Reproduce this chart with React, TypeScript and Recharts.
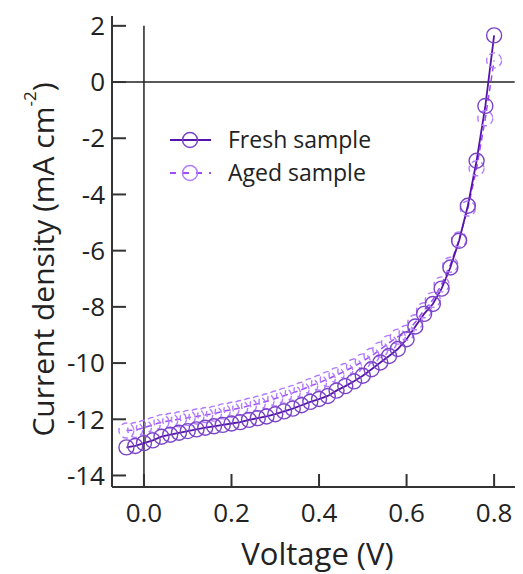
import React from 'react';
import { LineChart, Line, XAxis, YAxis, ReferenceLine, Legend, Label } from 'recharts';

const voltages = [-0.04, -0.02, 0, 0.02, 0.04, 0.06, 0.08, 0.1, 0.12, 0.14, 0.16, 0.18, 0.2, 0.22, 0.24, 0.26, 0.28, 0.3, 0.32, 0.34, 0.36, 0.38, 0.4, 0.42, 0.44, 0.46, 0.48, 0.5, 0.52, 0.54, 0.56, 0.58, 0.6, 0.62, 0.64, 0.66, 0.68, 0.7, 0.72, 0.74, 0.76, 0.78, 0.8];
const freshJ = [-13.0, -12.95, -12.85, -12.75, -12.62, -12.55, -12.48, -12.42, -12.36, -12.3, -12.25, -12.2, -12.15, -12.1, -12.02, -11.96, -11.9, -11.82, -11.72, -11.62, -11.5, -11.38, -11.28, -11.17, -10.98, -10.82, -10.65, -10.45, -10.22, -9.98, -9.75, -9.5, -9.15, -8.7, -8.25, -7.9, -7.35, -6.6, -5.65, -4.4, -2.8, -0.85, 1.66];
const agedJ = [-12.4, -12.38, -12.3, -12.2, -12.1, -12.05, -12.0, -11.95, -11.9, -11.85, -11.8, -11.72, -11.66, -11.6, -11.52, -11.45, -11.36, -11.26, -11.16, -11.06, -10.95, -10.82, -10.7, -10.57, -10.43, -10.28, -10.12, -9.94, -9.74, -9.52, -9.28, -9.06, -8.92, -8.55, -8.12, -7.75, -7.2, -6.5, -5.6, -4.5, -3.07, -1.29, 0.77];
const xTicks = [0, 0.2, 0.4, 0.6, 0.8];
const yTicks = [-14, -12, -10, -8, -6, -4, -2, 0, 2];
const seriesNames = ['Fresh sample', 'Aged sample'];

const data = voltages.map((v, i) => ({ v, fresh: freshJ[i], aged: agedJ[i] }));

const FRESH_LINE = '#5414a8';
const FRESH_DOT = '#7a44c6';
const AGED_LINE = '#9d4dfa';
const AGED_DOT = '#b27cff';
const FONT = '"Open Sans", sans-serif';

const X_DOMAIN: [number, number] = [-0.073, 0.866];
const Y_DOMAIN: [number, number] = [-14.41, 2.35];

const LegendBox = () => (
  <svg width={300} height={80} style={{ display: 'block', overflow: 'visible' }}>
    <line x1={2} y1={14} x2={43} y2={14} stroke={FRESH_LINE} strokeWidth={2} />
    <circle cx={22} cy={14} r={7.5} fill="none" stroke={FRESH_DOT} strokeWidth={1.5} />
    <text x={60} y={22} fontFamily={FONT} fontSize={23} fill="#222">{seriesNames[0]}</text>
    <line x1={2} y1={47} x2={43} y2={47} stroke={AGED_LINE} strokeWidth={2} strokeDasharray="6 7" />
    <circle cx={22} cy={47} r={7.5} fill="none" stroke={AGED_DOT} strokeWidth={1.5} />
    <text x={60} y={55} fontFamily={FONT} fontSize={23} fill="#222">{seriesNames[1]}</text>
  </svg>
);

const YTitle = (props: any) => {
  const vb = props.viewBox || { x: 0, y: 0, height: 0 };
  const cx = 34;
  const cy = vb.y + vb.height / 2 + 8;
  return (
    <text
      x={cx}
      y={cy}
      transform={`rotate(-90, ${cx}, ${cy})`}
      textAnchor="middle"
      dominantBaseline="central"
      fontFamily={FONT}
      fontSize={30}
      fill="#222"
    >
      Current density (mA cm
      <tspan fontSize={17} dy={-13}>-2</tspan>
      <tspan dy={13}>)</tspan>
    </text>
  );
};

export default function App() {
  return (
    <div style={{ width: 515, height: 566 }}>
      <LineChart width={515} height={566} data={data} margin={{ top: 8, right: 0, left: 0, bottom: 0 }}>
        <XAxis
          xAxisId="top"
          orientation="top"
          dataKey="v"
          type="number"
          domain={X_DOMAIN}
          allowDataOverflow
          height={0}
          tick={false}
          tickLine={false}
          axisLine={{ stroke: '#333', strokeWidth: 2 }}
        />
        <XAxis
          dataKey="v"
          type="number"
          domain={X_DOMAIN}
          allowDataOverflow
          ticks={xTicks}
          tickFormatter={(t: number) => t.toFixed(1)}
          height={87}
          tickSize={-13}
          tickMargin={30}
          axisLine={{ stroke: '#333', strokeWidth: 2 }}
          tickLine={{ stroke: '#333', strokeWidth: 2 }}
          tick={{ fill: '#222', fontSize: 26, fontFamily: FONT }}
        >
          <Label value="Voltage (V)" position="insideBottom" offset={9} style={{ fill: '#222', fontSize: 31, fontFamily: FONT }} />
        </XAxis>
        <YAxis
          type="number"
          domain={Y_DOMAIN}
          allowDataOverflow
          ticks={yTicks}
          width={104}
          tickSize={-14}
          tickMargin={21}
          axisLine={{ stroke: '#333', strokeWidth: 2 }}
          tickLine={{ stroke: '#333', strokeWidth: 2 }}
          tick={{ fill: '#222', fontSize: 26, fontFamily: FONT }}
        >
          <Label content={<YTitle />} />
        </YAxis>
        <ReferenceLine
          segment={[{ x: X_DOMAIN[0], y: 0 }, { x: 0.847, y: 0 }]}
          stroke="#222"
          strokeWidth={1.5}
          ifOverflow="visible"
        />
        <ReferenceLine
          segment={[{ x: 0, y: 2 }, { x: 0, y: Y_DOMAIN[0] }]}
          stroke="#222"
          strokeWidth={1.5}
          ifOverflow="visible"
        />
        <Line
          dataKey="aged"
          name={seriesNames[1]}
          stroke={AGED_LINE}
          strokeWidth={1.5}
          strokeDasharray="6 4"
          dot={{ r: 7.5, stroke: AGED_DOT, strokeWidth: 1.4, fill: 'none' }}
          isAnimationActive={false}
        />
        <Line
          dataKey="fresh"
          name={seriesNames[0]}
          stroke={FRESH_LINE}
          strokeWidth={1.8}
          dot={{ r: 7.5, stroke: FRESH_DOT, strokeWidth: 1.4, fill: 'none' }}
          isAnimationActive={false}
        />
        <Legend
          layout="horizontal"
          verticalAlign="middle"
          align="center"
          content={<LegendBox />}
          wrapperStyle={{ position: 'absolute', left: 160, top: 118, width: 300, height: 80 }}
        />
      </LineChart>
    </div>
  );
}
